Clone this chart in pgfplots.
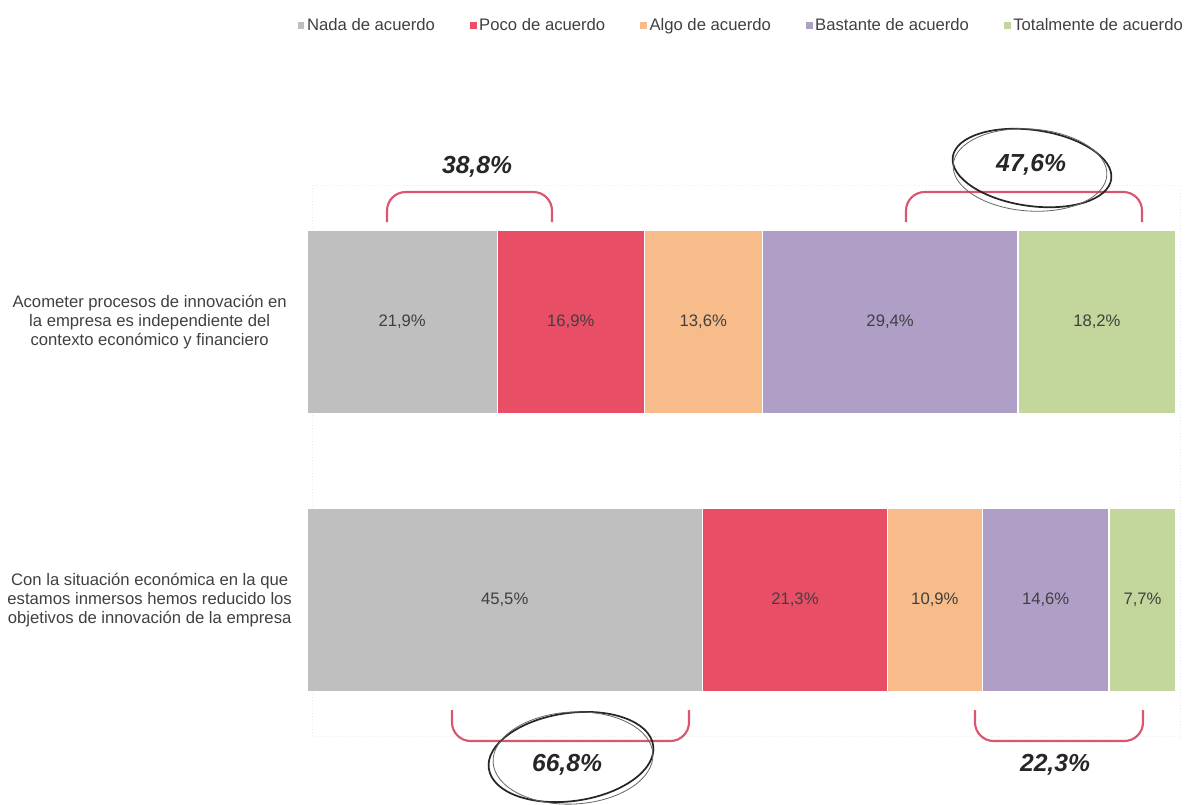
\documentclass[border=0pt]{standalone}
\usepackage{pgfplots}
\pgfplotsset{compat=1.18}
\usepackage{fontspec}
\setmainfont{Liberation Sans}
\definecolor{cgray}{HTML}{BFBFBF}
\definecolor{cred}{HTML}{E84E66}
\definecolor{corange}{HTML}{F8BC8B}
\definecolor{cpurple}{HTML}{AF9FC7}
\definecolor{cgreen}{HTML}{C3D69B}
\definecolor{cbrace}{HTML}{D9566F}
\definecolor{ctext}{HTML}{404040}
\pgfplotsset{sq/.style={legend image code/.code={\fill[##1,draw=none] (0pt,-2.6pt) rectangle (5.2pt,2.6pt);}}}
\begin{document}
\begin{tikzpicture}
\useasboundingbox (0,0) rectangle (895.5pt,-603pt);
\begin{scope}[x=0.75pt,y=-0.75pt]
\draw[black!8, dotted] (312,185) rectangle (1180,736);
\end{scope}
\begin{axis}[
  at={(230.25pt,-551.25pt)}, anchor=south west,
  scale only axis, width=651.75pt, height=411.75pt,
  xbar stacked, bar width=137.25pt, bar shift=0pt,
  xmin=0, xmax=100, ymin=-0.486, ymax=1.489,
  axis line style={draw=none},
  xtick=\empty, ytick={0,1}, major tick length=0pt,
  yticklabels={{Con la situación económica en la que\\estamos inmersos hemos reducido los\\objetivos de innovación de la empresa},{Acometer procesos de innovación en\\la empresa es independiente del\\contexto económico y financiero}},
  yticklabel style={anchor=center, xshift=-118pt, align=center, font=\fontsize{12.5}{14.25}\selectfont, text=ctext},
  legend columns=5,
  legend style={at={(0.5,1.293)}, anchor=center, draw=none, fill=none, font=\fontsize{12.5}{15}\selectfont, text=ctext, /tikz/every even column/.append style={column sep=24pt}},
  clip=false,
]
\addplot[sq, fill=cgray, draw=white, line width=1pt] coordinates {(21.9,1) (45.5,0)};
\addlegendentry{Nada de acuerdo}
\addplot[sq, fill=cred, draw=white, line width=1pt] coordinates {(16.9,1) (21.3,0)};
\addlegendentry{Poco de acuerdo}
\addplot[sq, fill=corange, draw=white, line width=1pt] coordinates {(13.6,1) (10.9,0)};
\addlegendentry{Algo de acuerdo}
\addplot[sq, fill=cpurple, draw=white, line width=1pt] coordinates {(29.4,1) (14.6,0)};
\addlegendentry{Bastante de acuerdo}
\addplot[sq, fill=cgreen, draw=white, line width=1pt] coordinates {(18.2,1) (7.7,0)};
\addlegendentry{Totalmente de acuerdo}
\end{axis}
\begin{axis}[
  at={(230.25pt,-551.25pt)}, anchor=south west,
  scale only axis, width=651.75pt, height=411.75pt,
  xmin=0, xmax=100, ymin=-0.486, ymax=1.489,
  hide axis, clip=false,
]
\addplot[draw=none, mark=none, nodes near coords, point meta=explicit symbolic,
  every node near coord/.append style={anchor=center, font=\fontsize{12.5}{14}\selectfont, text=ctext}]
  coordinates {
  (10.95,1) [21,9\%] (30.35,1) [16,9\%] (45.6,1) [13,6\%] (67.1,1) [29,4\%] (90.9,1) [18,2\%]
  (22.75,0) [45,5\%] (56.15,0) [21,3\%] (72.25,0) [10,9\%] (85.0,0) [14,6\%] (96.15,0) [7,7\%]
  };
\end{axis}
\begin{scope}[x=0.75pt,y=-0.75pt]
\tikzset{br/.style={cbrace, line width=1.6pt, rounded corners=14pt},
  pct/.style={font=\fontsize{18.5}{20}\selectfont\bfseries\itshape, text=black!85}}
\draw[br] (387,222) -- (387,192) -- (552,192) -- (552,222);
\draw[br] (906,222) -- (906,192) -- (1142,192) -- (1142,222);
\draw[br] (452,710) -- (452,741) -- (689,741) -- (689,710);
\draw[br] (975,710) -- (975,741) -- (1143,741) -- (1143,710);
\node[pct] at (477,167) {38,8\%};
\node[pct] at (1031,165) {47,6\%};
\node[pct] at (567,765) {66,8\%};
\node[pct] at (1055,765) {22,3\%};
\draw[black!85, line width=1.3pt, rotate around={-8:(1032,168)}] (1032,168) ellipse [x radius=80, y radius=38];
\draw[black!60, line width=0.6pt, rotate around={-4:(1030,170)}] (1030,170) ellipse [x radius=77, y radius=41];
\draw[black!85, line width=1.3pt, rotate around={8:(571,757)}] (571,757) ellipse [x radius=83, y radius=44];
\draw[black!60, line width=0.6pt, rotate around={3:(573,758)}] (573,758) ellipse [x radius=80, y radius=46];
\end{scope}
\end{tikzpicture}
\end{document}
